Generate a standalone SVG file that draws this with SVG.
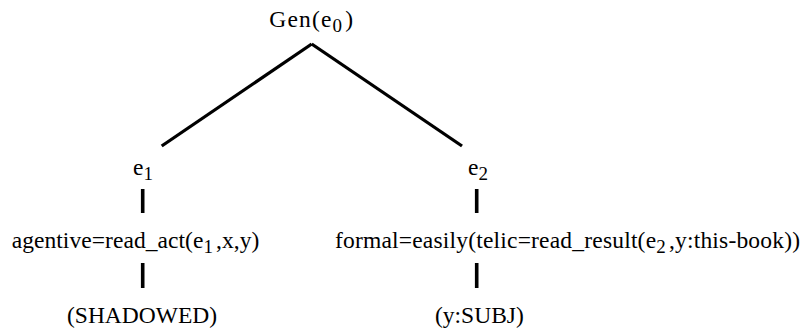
<svg xmlns="http://www.w3.org/2000/svg" width="804" height="330" viewBox="0 0 804 330">
<style>
text{font-family:"Liberation Serif","Times New Roman",serif;font-size:23.5px;fill:#000}
.s{font-size:19px}
.edge{stroke:#000;stroke-width:3.3;fill:none}
.bar{stroke:#000;stroke-width:3.6;fill:none}
</style>
<rect width="804" height="330" fill="#fff"/>
<g id="connectors">
<path class="edge" d="M311.7,44 L161.7,146"/>
<path class="edge" d="M311.7,44 L462,146"/>
<path class="bar" d="M142.7,189 V213 M142.7,263 V288"/>
<path class="bar" d="M476.7,189 V213 M476.7,263 V288"/>
</g>
<g id="gen"><text x="269.3" y="27" textLength="83.7">Gen(e<tspan class="s" dy="5">0</tspan><tspan dy="-5" dx="2">)</tspan></text></g>
<g id="e1"><text x="133" y="175">e<tspan class="s" dy="5">1</tspan></text></g>
<g id="e2"><text x="468" y="175">e<tspan class="s" dy="5">2</tspan></text></g>
<g id="agentive"><text x="11.7" y="248" textLength="247.6">agentive=read_act(e<tspan class="s" dy="5">1</tspan><tspan dy="-5" dx="3">,x,y)</tspan></text></g>
<g id="formal"><text x="335" y="248" textLength="465">formal=easily(telic=read_result(e<tspan class="s" dy="5">2</tspan><tspan dy="-5" dx="3">,y:this-book))</tspan></text></g>
<g id="shadowed"><text x="67" y="323">(SHADOWED)</text></g>
<g id="subj"><text x="435" y="323">(y:SUBJ)</text></g>
</svg>
